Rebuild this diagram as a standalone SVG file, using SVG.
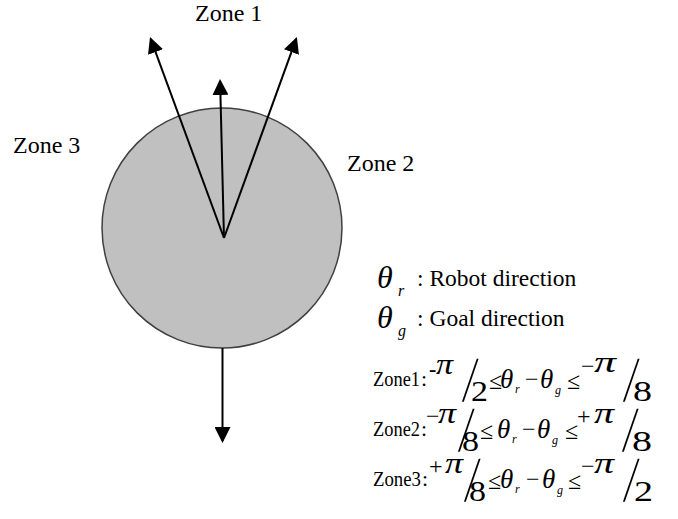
<svg xmlns="http://www.w3.org/2000/svg" width="678" height="519" viewBox="0 0 678 519">
<style>
.t{font-family:"Liberation Serif","Times New Roman",serif;fill:#000}
.lab{font-size:24px}
.leg{font-size:23.5px}
.z{font-size:22px}
.op{font-size:24px}
.th{font-size:27px;font-style:italic}
.thl{font-size:32px;font-style:italic}
.sub{font-size:12px;font-style:italic}
.subl{font-size:16px;font-style:italic}
.pi{font-size:30px;font-style:italic}
.sl{font-size:64px}
.d{font-size:30px}
.arrow{stroke:#000;stroke-width:2;fill:none;marker-end:url(#ah)}
</style>
<defs>
<marker id="ah" viewBox="0 0 16 16" refX="14" refY="8" markerWidth="16" markerHeight="16" markerUnits="userSpaceOnUse" orient="auto">
<path d="M0,0 L16,8 L0,16 z" fill="#000"/>
</marker>
</defs>
<rect width="678" height="519" fill="#fff"/>
<g id="robot">
<circle cx="222" cy="228" r="120" fill="#c0c0c0" stroke="#404040" stroke-width="1.5"/>
</g>
<g id="connectors">
<line class="arrow" x1="224" y1="238" x2="150.7" y2="38.9"/>
<line class="arrow" x1="224" y1="238" x2="296.2" y2="38.9"/>
<line class="arrow" x1="224" y1="238" x2="220.1" y2="81"/>
<line class="arrow" x1="222.5" y1="348" x2="222.5" y2="441"/>
</g>
<g id="zone1"><text class="t lab" x="195" y="21">Zone 1</text></g>
<g id="zone3"><text class="t lab" x="13" y="153">Zone 3</text></g>
<g id="zone2"><text class="t lab" x="347" y="171">Zone 2</text></g>
<g id="legend">
<text class="t thl" x="377" y="288">θ</text>
<text class="t subl" x="398" y="296">r</text>
<text class="t leg" x="417" y="286">: Robot direction</text>
<text class="t thl" x="377" y="328">θ</text>
<text class="t subl" x="398" y="336">g</text>
<text class="t leg" x="417" y="326">: Goal direction</text>
</g>
<g id="formula1">
<text class="t z" x="373" y="386" textLength="47" lengthAdjust="spacingAndGlyphs">Zone1</text>
<text class="t z" x="421" y="386">:</text>
<text class="t z" x="429" y="376" style="font-weight:bold">-</text>
<text class="t pi" x="436" y="374" textLength="17" lengthAdjust="spacingAndGlyphs">π</text>
<text class="t sl" transform="translate(462,401) skewX(-8) scale(0.6,1)">/</text>
<text class="t d" x="471" y="401" textLength="17" lengthAdjust="spacingAndGlyphs">2</text>
<text class="t op" x="489" y="389">≤</text>
<text class="t th" x="500" y="388">θ</text>
<text class="t sub" x="515" y="393">r</text>
<text class="t op" x="525" y="387">−</text>
<text class="t th" x="540" y="388">θ</text>
<text class="t sub" x="555" y="394">g</text>
<text class="t op" x="567" y="389">≤</text>
<text class="t op" x="581" y="374">−</text>
<text class="t pi" x="594" y="372" textLength="22" lengthAdjust="spacingAndGlyphs">π</text>
<text class="t sl" transform="translate(623,401) skewX(-8) scale(0.6,1)">/</text>
<text class="t d" x="633" y="401" textLength="19" lengthAdjust="spacingAndGlyphs">8</text>
</g>
<g id="formula2">
<text class="t z" x="373" y="436" textLength="47" lengthAdjust="spacingAndGlyphs">Zone2</text>
<text class="t z" x="421" y="436">:</text>
<text class="t op" x="426" y="424">−</text>
<text class="t pi" x="438" y="423" textLength="18" lengthAdjust="spacingAndGlyphs">π</text>
<text class="t sl" transform="translate(458,451) skewX(-8) scale(0.6,1)">/</text>
<text class="t d" x="462" y="451" textLength="17" lengthAdjust="spacingAndGlyphs">8</text>
<text class="t op" x="480" y="439">≤</text>
<text class="t th" x="497" y="438">θ</text>
<text class="t sub" x="512" y="443">r</text>
<text class="t op" x="522" y="437">−</text>
<text class="t th" x="537" y="438">θ</text>
<text class="t sub" x="552" y="444">g</text>
<text class="t op" x="565" y="439">≤</text>
<text class="t op" x="577" y="424">+</text>
<text class="t pi" x="594" y="423" textLength="20" lengthAdjust="spacingAndGlyphs">π</text>
<text class="t sl" transform="translate(622,451) skewX(-8) scale(0.6,1)">/</text>
<text class="t d" x="632" y="451" textLength="20" lengthAdjust="spacingAndGlyphs">8</text>
</g>
<g id="formula3">
<text class="t z" x="373" y="486" textLength="48" lengthAdjust="spacingAndGlyphs">Zone3</text>
<text class="t z" x="422" y="486">:</text>
<text class="t op" x="429" y="474">+</text>
<text class="t pi" x="445" y="473" textLength="18" lengthAdjust="spacingAndGlyphs">π</text>
<text class="t sl" transform="translate(464,501) skewX(-8) scale(0.6,1)">/</text>
<text class="t d" x="469" y="501" textLength="17" lengthAdjust="spacingAndGlyphs">8</text>
<text class="t op" x="488" y="489">≤</text>
<text class="t th" x="500" y="488">θ</text>
<text class="t sub" x="515" y="493">r</text>
<text class="t op" x="526" y="487">−</text>
<text class="t th" x="542" y="488">θ</text>
<text class="t sub" x="557" y="494">g</text>
<text class="t op" x="568" y="489">≤</text>
<text class="t op" x="581" y="474">−</text>
<text class="t pi" x="594" y="473" textLength="20" lengthAdjust="spacingAndGlyphs">π</text>
<text class="t sl" transform="translate(623,501) skewX(-8) scale(0.6,1)">/</text>
<text class="t d" x="634" y="501" textLength="19" lengthAdjust="spacingAndGlyphs">2</text>
</g>
</svg>
